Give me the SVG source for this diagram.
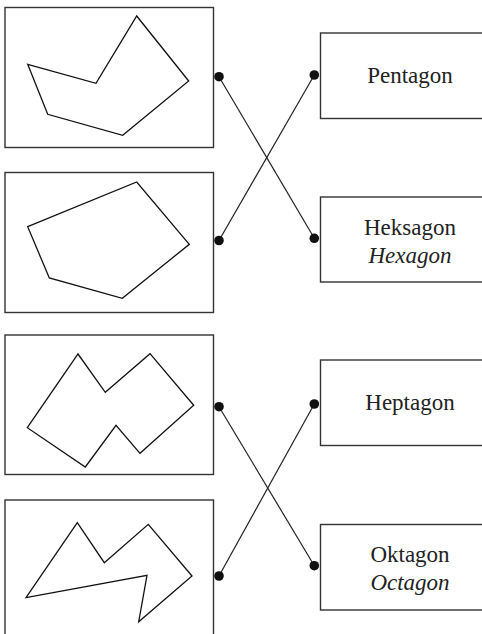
<svg xmlns="http://www.w3.org/2000/svg" width="482" height="634" viewBox="0 0 482 634">
<style>
.box{fill:#fff;stroke:#333;stroke-width:1.4}
.shape{fill:none;stroke:#111;stroke-width:1.3;stroke-linejoin:miter}
.lbl{font-family:"Liberation Serif","Times New Roman",serif;font-size:23px;fill:#222;text-anchor:middle}
.it{font-style:italic}
.conn line{stroke:#222;stroke-width:1.2}
.dot{fill:#111}
</style>
<rect width="482" height="634" fill="#fff"/>
<g id="shape1">
<rect class="box" x="5" y="7.5" width="208.5" height="140"/>
<polygon class="shape" points="27.7,64.3 96,83.3 136.7,16 188.7,81 122.7,135.3 47.7,114.3"/>
</g>
<g id="shape2">
<rect class="box" x="5" y="172.5" width="208.5" height="140"/>
<polygon class="shape" points="27.7,226.7 136.7,182 189.3,244.3 122.3,298.3 49.3,278"/>
</g>
<g id="shape3">
<rect class="box" x="5" y="335" width="208.5" height="139.5"/>
<polygon class="shape" points="27.3,427.7 78,354 105.3,392.3 150,353.7 193.7,405.3 140,453.3 116,425.3 85.3,467"/>
</g>
<g id="shape4">
<rect class="box" x="5" y="500" width="208.5" height="145"/>
<polygon class="shape" points="26,597.7 77.3,522.7 104.3,562.7 148.3,524.3 192,576 138.7,621.7 147,575.3"/>
</g>
<g id="pentagon">
<rect class="box" x="320.5" y="33" width="180" height="85.5"/>
<text class="lbl" x="410" y="83">Pentagon</text>
</g>
<g id="heksagon">
<rect class="box" x="320.5" y="197" width="180" height="85"/>
<text class="lbl" x="410" y="235">Heksagon</text>
<text class="lbl it" x="410" y="263">Hexagon</text>
</g>
<g id="heptagon">
<rect class="box" x="320.5" y="360" width="180" height="85.5"/>
<text class="lbl" x="410" y="410">Heptagon</text>
</g>
<g id="oktagon">
<rect class="box" x="320.5" y="524.5" width="180" height="85.5"/>
<text class="lbl" x="410" y="562">Oktagon</text>
<text class="lbl it" x="410" y="590">Octagon</text>
</g>
<g id="connectors" class="conn">
<line x1="219" y1="76.7" x2="314.3" y2="238.3"/>
<line x1="219" y1="240.5" x2="314.3" y2="75"/>
<line x1="219" y1="406.7" x2="314.3" y2="565.7"/>
<line x1="219" y1="576" x2="314.3" y2="404"/>
<circle class="dot" cx="219" cy="76.7" r="4.8"/>
<circle class="dot" cx="219" cy="240.5" r="4.8"/>
<circle class="dot" cx="219" cy="406.7" r="4.8"/>
<circle class="dot" cx="219" cy="576" r="4.8"/>
<circle class="dot" cx="314.3" cy="75" r="4.8"/>
<circle class="dot" cx="314.3" cy="238.3" r="4.8"/>
<circle class="dot" cx="314.3" cy="404" r="4.8"/>
<circle class="dot" cx="314.3" cy="565.7" r="4.8"/>
</g>
</svg>
